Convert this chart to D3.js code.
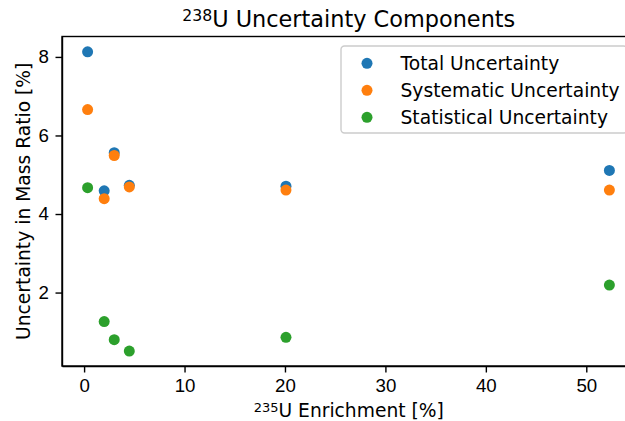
<!DOCTYPE html>
<html>
<head>
<meta charset="utf-8">
<script src="https://cdn.jsdelivr.net/npm/d3@7"></script>
<style>
  body { margin: 0; background: #fff; }
  svg { font-family: "DejaVu Sans", sans-serif; }
  .axis text { font-size: 18.7px; fill: #000; }
  .axis path, .axis line { stroke: #000; stroke-width: 1.4; }
</style>
</head>
<body>
<div id="chart"></div>
<script>
// values
var enrichment = [0.35, 2.0, 3.0, 4.5, 20.1, 52.3];
var totalUnc = [8.13, 4.59, 5.56, 4.73, 4.71, 5.11];
var systematicUnc = [6.66, 4.39, 5.49, 4.69, 4.61, 4.61];
var statisticalUnc = [4.67, 1.26, 0.80, 0.51, 0.86, 2.19];
var seriesNames = ["Total Uncertainty", "Systematic Uncertainty", "Statistical Uncertainty"];
var seriesColors = ["#1f77b4", "#ff7f0e", "#2ca02c"];
var xTicks = [0, 10, 20, 30, 40, 50];
var yTicks = [2, 4, 6, 8];

var width = 625;
var height = 421;

var plot = { left: 62, right: 635.5, top: 36.5, bottom: 366 };

var svg = d3.select("#chart")
  .append("svg")
  .attr("width", width)
  .attr("height", height);

var xScale = d3.scaleLinear()
  .domain([-2.2, 54.9])
  .range([plot.left, plot.right]);

var yScale = d3.scaleLinear()
  .domain([0.13, 8.52])
  .range([plot.bottom, plot.top]);

// axes
svg.append("g")
  .classed("axis", true)
  .attr("transform", `translate(0, ${plot.bottom})`)
  .call(d3.axisBottom(xScale).tickValues(xTicks).tickSize(6.5).tickPadding(6.5).tickSizeOuter(0));

svg.append("g")
  .classed("axis", true)
  .attr("transform", `translate(${plot.left}, 0)`)
  .call(d3.axisLeft(yScale).tickValues(yTicks).tickSize(6.5).tickPadding(6.5).tickSizeOuter(0));

// frame (top and right spines)
svg.append("rect")
  .attr("x", plot.left)
  .attr("y", plot.top)
  .attr("width", plot.right - plot.left)
  .attr("height", plot.bottom - plot.top)
  .attr("fill", "none")
  .attr("stroke", "#000")
  .attr("stroke-width", 1.4);

// points
var seriesValues = [totalUnc, systematicUnc, statisticalUnc];
seriesValues.forEach(function(vals, s) {
  svg.append("g").selectAll("circle")
    .data(vals)
    .enter()
    .append("circle")
    .attr("cx", (d, i) => xScale(enrichment[i]))
    .attr("cy", d => yScale(d))
    .attr("r", 5.5)
    .attr("fill", seriesColors[s]);
});

// title
var title = svg.append("text")
  .attr("x", (plot.left + plot.right) / 2)
  .attr("y", 27)
  .attr("text-anchor", "middle")
  .style("font-size", "22.4px");
title.append("tspan").attr("baseline-shift", "38%").style("font-size", "15.7px").text("238");
title.append("tspan").text("U Uncertainty Components");

// x label
var xLabel = svg.append("text")
  .attr("x", (plot.left + plot.right) / 2)
  .attr("y", 417)
  .attr("text-anchor", "middle")
  .style("font-size", "18.7px");
xLabel.append("tspan").attr("baseline-shift", "38%").style("font-size", "13px").text("235");
xLabel.append("tspan").text("U Enrichment [%]");

// y label
svg.append("text")
  .attr("transform", `translate(30, ${(plot.top + plot.bottom) / 2}) rotate(-90)`)
  .attr("text-anchor", "middle")
  .style("font-size", "18.7px")
  .text("Uncertainty in Mass Ratio [%]");

// legend
var legend = svg.append("g");
legend.append("rect")
  .attr("x", 341)
  .attr("y", 46)
  .attr("width", 286)
  .attr("height", 87)
  .attr("rx", 3.5)
  .attr("fill", "#fff")
  .attr("fill-opacity", 0.8)
  .attr("stroke", "#cccccc")
  .attr("stroke-width", 1.4);

seriesNames.forEach(function(name, i) {
  var y = 63.3 + i * 27;
  legend.append("circle")
    .attr("cx", 367)
    .attr("cy", y)
    .attr("r", 5.5)
    .attr("fill", seriesColors[i]);
  legend.append("text")
    .attr("x", 400.5)
    .attr("y", y + 6.5)
    .style("font-size", "18.7px")
    .text(name);
});
</script>
</body>
</html>
